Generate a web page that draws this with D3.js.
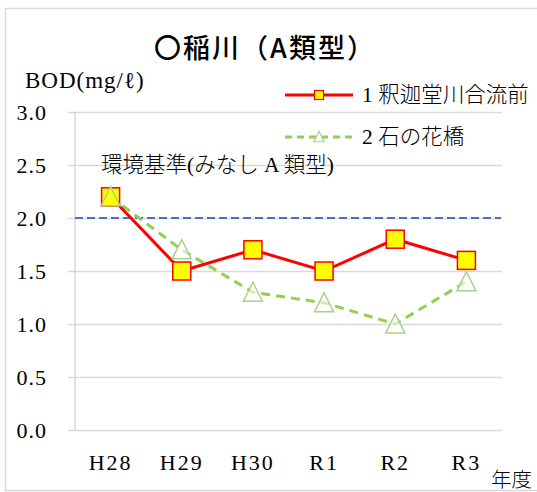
<!DOCTYPE html>
<html><head><meta charset="utf-8">
<script src="https://cdn.jsdelivr.net/npm/d3@7"></script>
<style>
html,body{margin:0;padding:0;background:#fff;}
svg{display:block;}
</style></head>
<body>
<script>
const categories = ["H28","H29","H30","R1","R2","R3"];
const series1Name = "1 釈迦堂川合流前";
const series1 = [2.2, 1.5, 1.7, 1.5, 1.8, 1.6];
const series2Name = "2 石の花橋";
const series2 = [2.2, 1.7, 1.3, 1.2, 1.0, 1.4];
const standardValue = 2.0;
const standardLabel = "環境基準(みなし A 類型)";
const yTicks = [0, 0.5, 1.0, 1.5, 2.0, 2.5, 3.0];
const titleText = "〇稲川（A類型）";
const yAxisTitle = "BOD(mg/ℓ)";
const xAxisTitle = "年度";

const W = 537, H = 492;
const serif = "'Liberation Serif','Noto Sans CJK JP',serif";
const svg = d3.select("body").append("svg").attr("width", W).attr("height", H);

// outer frame
svg.append("rect").attr("x", 5.5).attr("y", 8.5).attr("width", 540).attr("height", 482)
  .attr("fill", "#fff").attr("stroke", "#d9d9d9").attr("stroke-width", 1.5);

const plot = {left: 75, right: 502, top: 112, bottom: 430};
const x = d3.scaleBand().domain(categories).range([plot.left, plot.right]);
const y = d3.scaleLinear().domain([0, 3]).range([plot.bottom, plot.top]);
const cx = d => x(d) + x.bandwidth() / 2;

// gridlines
const gy = svg.append("g").attr("transform", `translate(${plot.right},0)`);
gy.call(d3.axisLeft(y).tickValues(yTicks).tickSize(plot.right - 68).tickFormat(""));
gy.select(".domain").remove();
gy.selectAll(".tick line").attr("stroke", "#d9d9d9").attr("stroke-width", 1.5);

// y tick labels
const gyl = svg.append("g").attr("transform", `translate(47,0)`);
gyl.call(d3.axisLeft(y).tickValues(yTicks).tickFormat(d3.format(".1f")).tickSize(0).tickPadding(0));
gyl.select(".domain").remove();
gyl.selectAll("text").attr("font-family", serif).attr("font-size", 22).attr("letter-spacing", 1)
  .attr("fill", "#000").attr("dy", "0.33em");

// vertical axis line
svg.append("line").attr("x1", plot.left).attr("x2", plot.left).attr("y1", plot.top).attr("y2", plot.bottom + 1)
  .attr("stroke", "#d9d9d9").attr("stroke-width", 1.5);

// x axis labels
const gx = svg.append("g").attr("transform", `translate(0,${plot.bottom})`);
gx.call(d3.axisBottom(x).tickSize(0).tickPadding(0));
gx.select(".domain").remove();
gx.selectAll("text").attr("font-family", serif).attr("font-size", 22).attr("letter-spacing", 2)
  .attr("fill", "#000").attr("dy", null).attr("y", 40);

// standard line
svg.append("line").attr("x1", plot.left).attr("x2", plot.right - 1)
  .attr("y1", y(standardValue)).attr("y2", y(standardValue))
  .attr("stroke", "#4472c4").attr("stroke-width", 2).attr("stroke-dasharray", "8,4");

svg.append("text").attr("x", 101).attr("y", 172).attr("font-family", serif).attr("font-size", 21.5)
  .attr("font-weight", 300).attr("fill", "#000").text(standardLabel);

const line = d3.line().x((d, i) => cx(categories[i])).y(d => y(d));

// series 2 (green dashed)
svg.append("path").datum(series2).attr("d", line).attr("fill", "none")
  .attr("stroke", "#92d050").attr("stroke-width", 3).attr("stroke-dasharray", "9,6");
// series 1 (red)
svg.append("path").datum(series1).attr("d", line).attr("fill", "none")
  .attr("stroke", "#ff0000").attr("stroke-width", 3);

const triPath = s => { const h = s * 0.95; return `M0,${-h/2 - 1}L${s/2},${h/2}L${-s/2},${h/2}Z`; };

svg.append("g").selectAll("path").data(series2).join("path")
  .attr("transform", (d, i) => `translate(${cx(categories[i])},${y(d)})`)
  .attr("d", triPath(19)).attr("fill", "#fff").attr("fill-opacity", 0.6)
  .attr("stroke", "#a9d18e").attr("stroke-width", 1.5);

svg.append("g").selectAll("rect").data(series1).join("rect")
  .attr("x", (d, i) => cx(categories[i]) - 9).attr("y", d => y(d) - 9)
  .attr("width", 18).attr("height", 18)
  .attr("fill", "#ffff00").attr("stroke", "#ff0000").attr("stroke-width", 1.5);

// first triangle outline drawn on top of the square, as in the reference
svg.append("g").selectAll("path").data(series2.slice(0,1)).join("path")
  .attr("transform", (d, i) => `translate(${cx(categories[i])},${y(d)})`)
  .attr("d", triPath(19)).attr("fill", "none")
  .attr("stroke", "#a9d18e").attr("stroke-width", 1.5);

// legend
const lg = svg.append("g");
lg.append("line").attr("x1", 285).attr("x2", 353).attr("y1", 95).attr("y2", 95)
  .attr("stroke", "#ff0000").attr("stroke-width", 3);
lg.append("rect").attr("x", 314.5).attr("y", 90.5).attr("width", 9).attr("height", 9)
  .attr("fill", "#ffff00").attr("stroke", "#ff0000").attr("stroke-width", 1.2);
lg.append("text").attr("x", 362).attr("y", 102).attr("font-family", serif).attr("font-size", 21.5)
  .attr("font-weight", 300).attr("fill", "#000").text(series1Name);

lg.append("line").attr("x1", 285).attr("x2", 353).attr("y1", 137).attr("y2", 137)
  .attr("stroke", "#92d050").attr("stroke-width", 3).attr("stroke-dasharray", "7,5");
lg.append("path").attr("transform", "translate(319,137)").attr("d", triPath(10))
  .attr("fill", "#fff").attr("stroke", "#a9d18e").attr("stroke-width", 1.2);
lg.append("text").attr("x", 362).attr("y", 144).attr("font-family", serif).attr("font-size", 21.5)
  .attr("font-weight", 300).attr("fill", "#000").text(series2Name);

// titles
svg.append("text").attr("x", 265).attr("y", 58).attr("text-anchor", "middle")
  .attr("font-family", "'Noto Sans CJK JP',sans-serif").attr("font-weight", 500).attr("font-size", 27)
  .attr("letter-spacing", 2).attr("fill", "#000").text(titleText);
svg.append("text").attr("x", 25).attr("y", 88).attr("font-family", serif).attr("font-size", 23)
  .attr("letter-spacing", 1).attr("fill", "#000").text(yAxisTitle);
svg.append("text").attr("x", 491).attr("y", 487).attr("font-family", serif).attr("font-size", 20.5)
  .attr("font-weight", 300).attr("fill", "#000").text(xAxisTitle);
</script>
</body></html>
